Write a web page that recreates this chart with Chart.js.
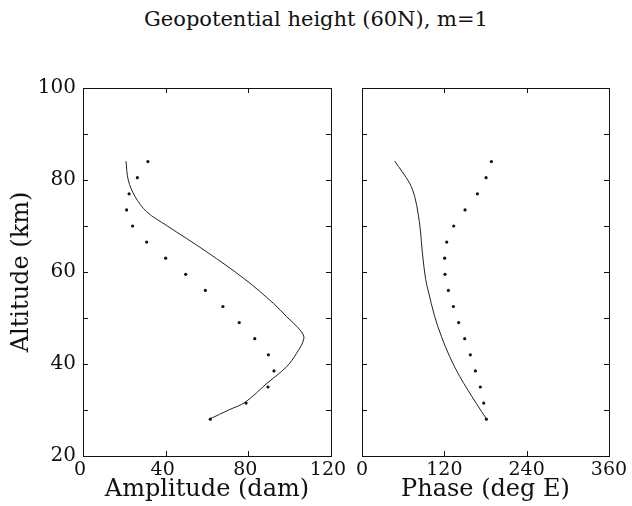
<!DOCTYPE html>
<html>
<head>
<meta charset="utf-8">
<script src="https://cdn.jsdelivr.net/npm/chart.js@4.4.1/dist/chart.umd.min.js"></script>
<style>
  html, body { margin: 0; padding: 0; background: #fff; }
  #wrap { position: relative; width: 632px; height: 506px; }
  #wrap canvas { position: absolute; left: 0; top: 0; }
  #title {
    position: absolute; left: 0; top: 9px; width: 632px;
    text-align: center; color: #111;
    font: 21px 'DejaVu Serif', serif; line-height: 21px;
  }
</style>
</head>
<body>
<div id="wrap">
  <div id="title">Geopotential height (60N), m=1</div>
  <canvas id="amp" width="632" height="506"></canvas>
  <canvas id="phase" width="632" height="506"></canvas>
</div>
<script>
// observed profile (dots), one value per altitude level
const obsAltitude  = [28.0, 31.5, 35.0, 38.5, 42.0, 45.5, 49.0, 52.5, 56.0, 59.5, 63.0, 66.5, 70.0, 73.5, 77.0, 80.5, 84.0];
const obsAmplitude = [61.6, 78.9, 89.5, 92.4, 89.7, 83.1, 75.6, 67.7, 59.2, 49.7, 40.0, 30.8, 24.0, 21.1, 22.3, 26.3, 31.4];
const obsPhase     = [181.3, 177.4, 172.5, 165.3, 157.9, 149.7, 140.9, 133.2, 125.9, 121.0, 120.5, 123.5, 133.7, 150.2, 168.2, 180.8, 188.6];

// model profile (solid line)
const modelAmpAltitude = [28.1, 30.0, 31.7, 35.8, 39.4, 42.3, 45.6, 47.4, 50.3, 53.2, 58.4, 64.4, 70.1, 73.1, 76.4, 80.0, 84.1];
const modelAmplitude   = [61.6, 70.5, 78.5, 89.0, 98.5, 103.3, 106.9, 105.0, 98.5, 92.1, 78.4, 59.8, 40.5, 30.8, 25.2, 21.9, 20.8];
const modelPhaseAltitude = [28.1, 31.4, 37.3, 41.6, 46.0, 50.3, 56.1, 58.4, 64.1, 69.1, 72.8, 76.4, 79.3, 81.8, 84.1];
const modelPhase         = [181.3, 166.7, 142.4, 127.8, 115.7, 106.0, 96.2, 92.8, 88.0, 85.1, 81.7, 76.8, 69.5, 58.5, 47.7];

const altRange = [20, 100];
const ampTicks = [0, 40, 80, 120];
const phaseTicks = [0, 120, 240, 360];

const INK = '#111';
Chart.defaults.font.family = "'DejaVu Serif', serif";
Chart.defaults.color = INK;

const pairs = (xs, ys) => xs.map((v, i) => ({ x: v, y: ys[i] }));

// box round the plot plus short inward tick marks on all four sides
const frame = {
  id: 'frame',
  afterDraw(chart) {
    const { ctx, chartArea: a, scales: { x, y } } = chart;
    const len = 5;
    ctx.save();
    ctx.strokeStyle = INK;
    ctx.lineWidth = 1;
    ctx.beginPath();
    x.ticks.forEach(t => {
      if (t.value <= x.min || t.value >= x.max) return;
      const px = Math.round(x.getPixelForValue(t.value)) + 0.5;
      ctx.moveTo(px, a.top); ctx.lineTo(px, a.top + len);
      ctx.moveTo(px, a.bottom); ctx.lineTo(px, a.bottom - len);
    });
    y.ticks.forEach(t => {
      if (t.value <= y.min || t.value >= y.max) return;
      const py = Math.round(y.getPixelForValue(t.value)) + 0.5;
      ctx.moveTo(a.left, py); ctx.lineTo(a.left + len, py);
      ctx.moveTo(a.right, py); ctx.lineTo(a.right - len, py);
    });
    ctx.stroke();
    ctx.strokeRect(Math.round(a.left) + 0.5, Math.round(a.top) + 0.5,
                   Math.round(a.width), Math.round(a.height));
    ctx.restore();
  }
};

function panel(id, opts) {
  return new Chart(document.getElementById(id), {
    type: 'scatter',
    data: {
      datasets: [
        {
          data: opts.line,
          showLine: true,
          borderColor: '#222',
          borderWidth: 1,
          tension: 0.35,
          pointRadius: 0,
        },
        {
          data: opts.dots,
          showLine: false,
          pointRadius: 1.6,
          pointBackgroundColor: INK,
          pointBorderWidth: 0,
        },
      ],
    },
    options: {
      responsive: false,
      animation: false,
      devicePixelRatio: 1,
      layout: { padding: { left: opts.padLeft, right: opts.padRight, top: 88, bottom: 0 } },
      plugins: { legend: { display: false }, tooltip: { enabled: false } },
      scales: {
        x: {
          type: 'linear',
          min: opts.ticks[0],
          max: opts.ticks[opts.ticks.length - 1],
          afterBuildTicks: s => { s.ticks = opts.ticks.map(v => ({ value: v })); },
          grid: { display: false, drawTicks: false },
          border: { display: false },
          ticks: { font: { size: 19 }, padding: 3, maxRotation: 0, autoSkip: false, labelOffset: opts.labelShift },
          title: { display: true, text: opts.xTitle, font: { size: 24 }, padding: { top: 0, bottom: 2 } },
          afterFit: s => { s.height = 50; },
        },
        y: {
          type: 'linear',
          min: altRange[0],
          max: altRange[1],
          grid: { display: false, drawTicks: false },
          border: { display: false },
          ticks: {
            display: opts.yLabels,
            stepSize: 10,
            font: { size: 20 },
            padding: 7,
            callback: v => (v % 20 === 0 ? v : ''),
          },
          title: { display: opts.yLabels, text: 'Altitude (km)', font: { size: 24 }, padding: { top: 7, bottom: 0 } },
          afterFit: s => { s.width = opts.yWidth; },
        },
      },
    },
    plugins: [frame],
  });
}

panel('amp', {
  line: pairs(modelAmplitude, modelAmpAltitude),
  dots: pairs(obsAmplitude, obsAltitude),
  ticks: ampTicks,
  xTitle: 'Amplitude (dam)',
  yLabels: true,
  yWidth: 83,
  padLeft: 0,
  padRight: 632 - 331,
  labelShift: -3,
});

panel('phase', {
  line: pairs(modelPhase, modelPhaseAltitude),
  dots: pairs(obsPhase, obsAltitude),
  ticks: phaseTicks,
  xTitle: 'Phase (deg E)',
  yLabels: false,
  yWidth: 0,
  padLeft: 362,
  padRight: 632 - 609,
  labelShift: 0,
});
</script>
</body>
</html>
